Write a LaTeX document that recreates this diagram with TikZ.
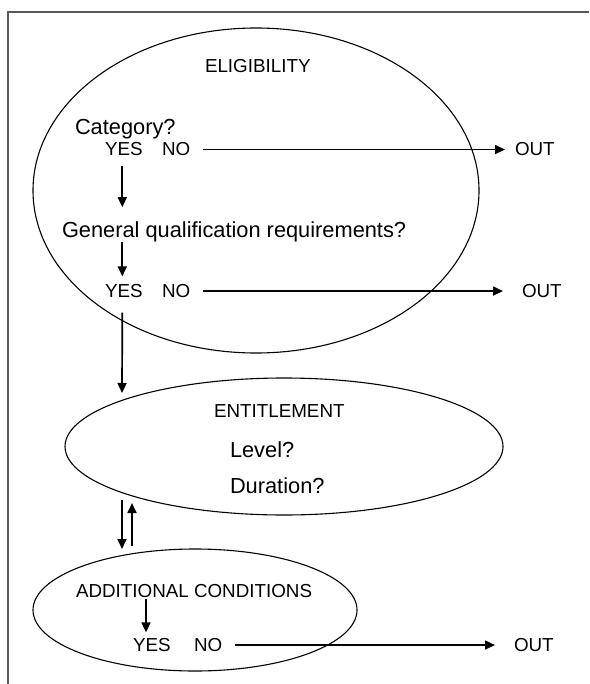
\documentclass[tikz,border=0pt]{standalone}
\usepackage{fontspec}
\setmainfont{Liberation Sans}
\usetikzlibrary{arrows.meta,shapes.geometric,calc}
\begin{document}
\begin{tikzpicture}[x=1pt,y=-1pt,
  lbl/.style={inner sep=0pt,outer sep=0pt,anchor=base west,font=\fontsize{18.8}{22}\selectfont},
  qst/.style={inner sep=0pt,outer sep=0pt,anchor=base west,font=\fontsize{21.8}{26}\selectfont},
  zone/.style={ellipse,draw,line width=1.1pt,inner sep=0pt,outer sep=0pt},
  arr/.style={line width=1.7pt,-{Triangle[length=10pt,width=9pt]}},
  frame/.style={draw=black!65,line width=2.2pt}]
\useasboundingbox (0,0) rectangle (589,684);
% open frame: left and top edges only
\draw[frame] (8,684) -- (8,12) -- (589,12);

% the three stages
\node[zone,minimum width=446pt,minimum height=325pt] (e1) at (256,190.5) {};
\node[zone,minimum width=438pt,minimum height=137pt] (e2) at (284,446.5) {};
\node[zone,minimum width=324pt,minimum height=122pt] (e3) at (195,610) {};

% eligibility
\node[lbl] (elig) at (205,72.7) {ELIGIBILITY};
\node[qst] (cat) at (75,135) {Category?};
\node[lbl] (yes1) at (105,156) {YES};
\node[lbl] (no1) at (162,156) {NO};
\node[lbl] (out1) at (515,156) {OUT};
\node[qst] (gen) at (62,237) {General qualification requirements?};
\node[lbl] (yes2) at (105,297.5) {YES};
\node[lbl] (no2) at (162,297.5) {NO};
\node[lbl] (out2) at (522,297.5) {OUT};

% entitlement
\node[lbl] (ent) at (214,417) {ENTITLEMENT};
\node[qst] (lvl) at (230,457) {Level?};
\node[qst] (dur) at (230,493) {Duration?};

% additional conditions
\node[lbl] (addl) at (76,597) {ADDITIONAL CONDITIONS};
\node[lbl] (yes3) at (133,651.5) {YES};
\node[lbl] (no3) at (194,651.5) {NO};
\node[lbl] (out3) at (514,651.5) {OUT};

% vertical flow
\draw[arr] ($(yes1.south)+(-1.5,10)$) -- ($(yes1.south |- gen.north)+(-1.5,-14)$);
\draw[arr] ($(yes2.north |- gen.south)+(-1.5,0.5)$) -- ($(yes2.north)+(-1.5,-8)$);
\draw[arr] ($(yes2.south)+(-1.5,15)$) -- ($(e2.center)+(-162,-53.5)$);
\draw[arr] ($(e2.center)+(-162,53.5)$) -- ($(e3.center)+(-73,-61)$);
\draw[arr] ($(e3.center)+(-63,-64)$) -- ($(e2.center)+(-152,56.5)$);
\draw[arr] ($(addl.south west)+(70,2)$) -- ($(addl.south west |- yes3.north)+(70,-6)$);

% exits
\draw[arr] ($(no1.east)+(13,0)$) -- ($(out1.west)+(-10,0)$);
\draw[arr] ($(no2.east)+(13,0)$) -- ($(out2.west)+(-19,0)$);
\draw[arr] ($(no3.east)+(13,0)$) -- ($(out3.west)+(-19,0)$);
\end{tikzpicture}
\end{document}
